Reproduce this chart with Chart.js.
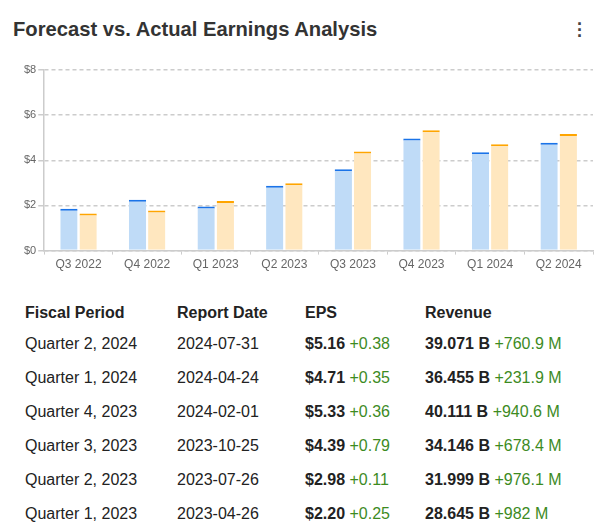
<!DOCTYPE html>
<html>
<head>
<meta charset="utf-8">
<script src="https://cdn.jsdelivr.net/npm/chart.js@4"></script>
<style>
  body { margin: 0; background: #fff; font-family: "Liberation Sans", Arial, sans-serif; }
  #wrap { position: relative; width: 603px; height: 527px; overflow: hidden; }
  #title { position: absolute; left: 13px; top: 18px; font-size: 20.2px; font-weight: bold; color: #333; }
  #menu { position: absolute; left: 577px; top: 21px; font-size: 18px; font-weight: bold; color: #444; line-height: 6px; }
  #chartBox { position: absolute; left: 0; top: 56px; width: 603px; height: 219px; }
  #tbl { position: absolute; left: 25px; top: 299px; border-collapse: collapse; font-size: 16px; color: #222; }
  #tbl td, #tbl th { padding: 0; height: 34px; text-align: left; white-space: nowrap; }
  #tbl th { font-weight: bold; height: 28px; }
  .b { font-weight: bold; }
  .g { color: #3d8b1f; }
</style>
</head>
<body>
<div id="wrap">
  <div id="title">Forecast vs. Actual Earnings Analysis</div>
  <div id="menu">&middot;<br>&middot;<br>&middot;</div>
  <div id="chartBox"><canvas id="earnChart"></canvas></div>
  <table id="tbl"></table>
</div>
<script>
quarters = ['Q3 2022', 'Q4 2022', 'Q1 2023', 'Q2 2023', 'Q3 2023', 'Q4 2023', 'Q1 2024', 'Q2 2024'];
forecastEps = [1.85, 2.25, 1.95, 2.87, 3.60, 4.97, 4.36, 4.78];
actualEps = [1.64, 1.78, 2.20, 2.98, 4.39, 5.33, 4.71, 5.16];
yTicks = [0, 2, 4, 6, 8];

periods = ['Quarter 2, 2024', 'Quarter 1, 2024', 'Quarter 4, 2023', 'Quarter 3, 2023', 'Quarter 2, 2023', 'Quarter 1, 2023'];
reportDates = ['2024-07-31', '2024-04-24', '2024-02-01', '2023-10-25', '2023-07-26', '2023-04-26'];
epsValues = ['$5.16', '$4.71', '$5.33', '$4.39', '$2.98', '$2.20'];
epsSurprise = ['+0.38', '+0.35', '+0.36', '+0.79', '+0.11', '+0.25'];
revenues = ['39.071 B', '36.455 B', '40.111 B', '34.146 B', '31.999 B', '28.645 B'];
revSurprise = ['+760.9 M', '+231.9 M', '+940.6 M', '+678.4 M', '+976.1 M', '+982 M'];

// table
tbl = document.getElementById('tbl');
html = '<tr><th style="width:152px">Fiscal Period</th><th style="width:128px">Report Date</th><th style="width:120px">EPS</th><th>Revenue</th></tr>';
for (i = 0; i < periods.length; i++) {
	html += '<tr><td>' + periods[i] + '</td><td>' + reportDates[i] + '</td>' +
		'<td><span class="b">' + epsValues[i] + '</span> <span class="g">' + epsSurprise[i] + '</span></td>' +
		'<td><span class="b">' + revenues[i] + '</span> <span class="g">' + revSurprise[i] + '</span></td></tr>';
}
tbl.innerHTML = html;

ctx = document.getElementById('earnChart');
new Chart(ctx, {
	type: 'bar',
	data: {
		labels: quarters,
		datasets: [
			{
				label: 'Forecast',
				data: forecastEps,
				backgroundColor: '#bfdbf7',
				borderColor: '#1a73e8',
				borderWidth: { top: 2, left: 0, right: 0, bottom: 0 },
				borderSkipped: 'bottom',
				categoryPercentage: 0.56,
				barPercentage: 0.9
			},
			{
				label: 'Actual',
				data: actualEps,
				backgroundColor: '#ffe7bf',
				borderColor: '#ffa500',
				borderWidth: { top: 2, left: 0, right: 0, bottom: 0 },
				borderSkipped: 'bottom',
				categoryPercentage: 0.56,
				barPercentage: 0.9
			}
		]
	},
	options: {
		responsive: true,
		maintainAspectRatio: false,
		animation: false,
		layout: { padding: { left: 22, right: 10, top: 14, bottom: 0 } },
		plugins: { legend: { display: false }, tooltip: { enabled: false } },
		scales: {
			x: {
				grid: { drawOnChartArea: false, drawTicks: true, tickLength: 4, color: '#ccc' },
				border: { display: true, color: '#ccc', dash: [4, 3], width: 1.5 },
				ticks: { color: '#666', font: { size: 12, family: 'Liberation Sans' }, padding: 3 }
			},
			y: {
				min: 0,
				max: 8,
				afterBuildTicks: function(axis) { axis.ticks = yTicks.map(function(v) { return { value: v }; }); },
				grid: { color: '#ccc', lineWidth: 1.5, tickLength: 6, drawTicks: true },
				border: { display: true, color: '#ccc', dash: [4, 3], width: 1.5 },
				ticks: {
					color: '#666',
					font: { size: 11, family: 'Liberation Sans' },
					padding: 2,
					callback: function(v) { return '$' + v; }
				}
			}
		}
	},
	plugins: [{
		id: 'dashGrid',
		beforeDraw: function(chart) {
			chart.options.scales.y.grid.borderDash = [4, 3];
		}
	}]
});
</script>
</body>
</html>
